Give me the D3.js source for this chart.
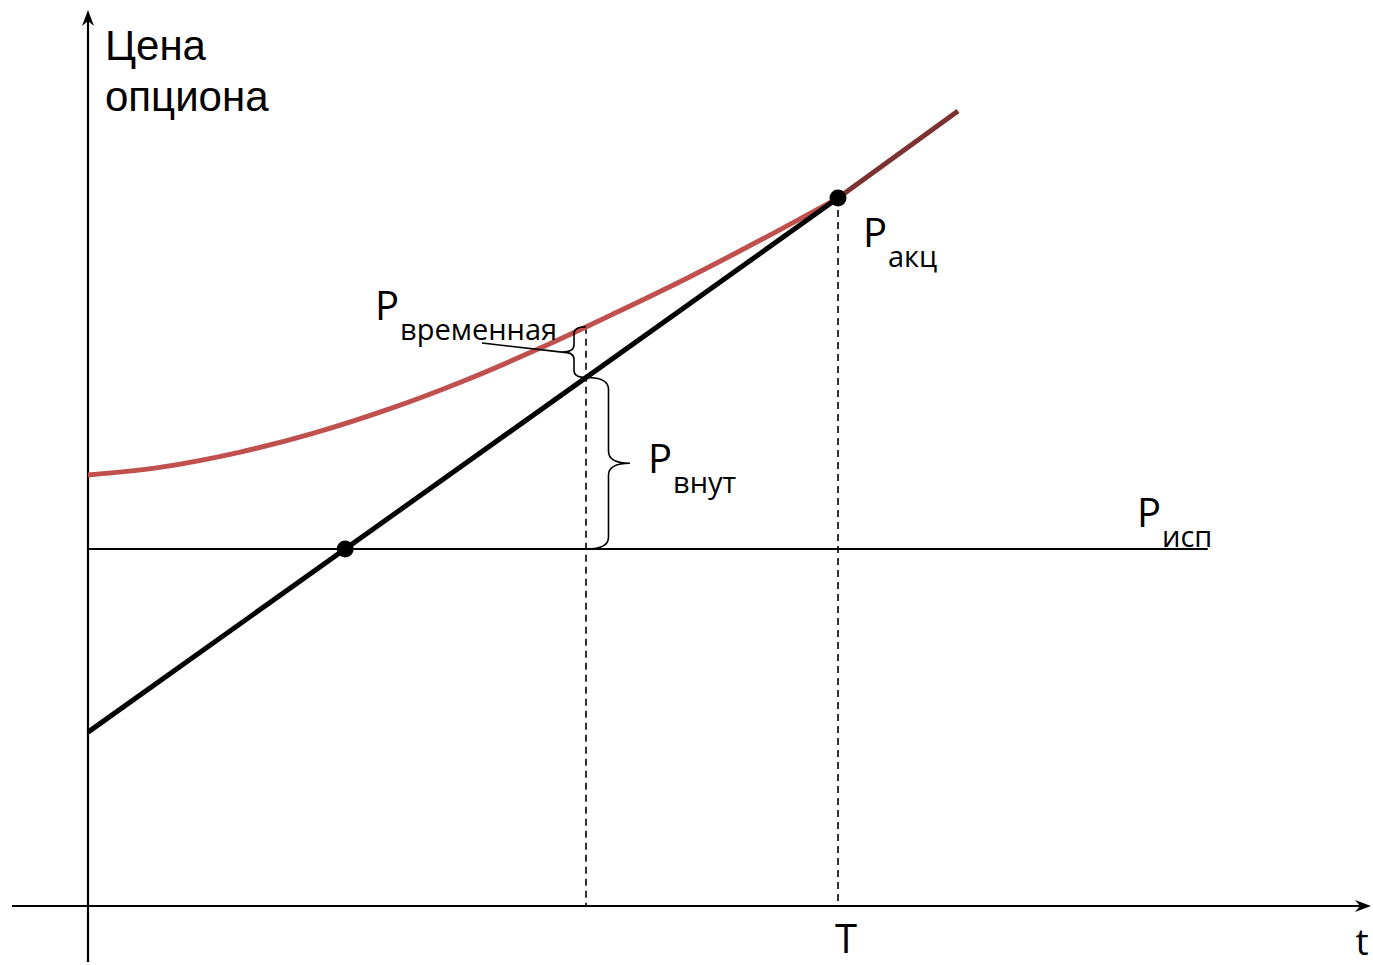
<!DOCTYPE html>
<html lang="ru">
<head>
<meta charset="utf-8">
<title>Цена опциона</title>
<script src="https://cdn.jsdelivr.net/npm/d3@7"></script>
<style>
  html, body { margin: 0; padding: 0; background: #fff; }
  svg { display: block; }
</style>
</head>
<body>
<script>
// Time axis: 0 = today, 1 = expiry T
const optionT     = [0, 0.1, 0.2, 0.3, 0.4, 0.5, 0.6, 0.7, 0.8, 0.9, 1.0];
const optionPrice = [120.7, 123.0, 127.0, 132.4, 139.1, 147.0, 156.0, 165.8, 176.0, 186.9, 198.3];
// Stock-driven part of the value (intrinsic line)
const stockT      = [0, 1];
const stockPrice  = [48.7, 198.3];
// Beyond expiry the option follows the share
const tailT       = [1, 1.16];
const tailPrice   = [198.3, 222.7];
// Strike level and the moments marked on the time axis
const strikePrice = 100;
const strikeT     = [0, 1.493];
const evalT       = 0.664;
const expiryT     = 1;

const W = 1373, H = 965;
const svg = d3.select("body").append("svg").attr("width", W).attr("height", H);

const x = d3.scaleLinear().domain([0, 1]).range([88, 838]);
const y = d3.scaleLinear().domain([0, 100]).range([906, 549]);

const RED = "#c0504d", DARKRED = "#7b3230";
const sans = "'Liberation Sans', Arial, sans-serif";
const open = "'Open Sans', 'Noto Sans', sans-serif";

// value of a piecewise series at t
function valueAt(ts, vs, t) {
  const i = Math.min(ts.length - 1, Math.max(1, d3.bisectLeft(ts, t)));
  const k = (t - ts[i - 1]) / (ts[i] - ts[i - 1]);
  return vs[i - 1] + k * (vs[i] - vs[i - 1]);
}

// ---- axes with arrowheads ----
function arrowHead(tx, ty, dir) {
  const L = 16, w = 6, n = 5;
  let pts;
  if (dir === "up") pts = [[tx, ty], [tx + w, ty + L], [tx, ty + L - n], [tx - w, ty + L]];
  else pts = [[tx, ty], [tx - L, ty - w], [tx - L + n, ty], [tx - L, ty + w]];
  svg.append("path").attr("d", "M" + pts.map(p => p.join(",")).join("L") + "Z").attr("fill", "#000");
}
const x0 = x(0), yAxisY = y(0);
svg.append("line").attr("x1", x0).attr("x2", x0).attr("y1", 962).attr("y2", 14)
  .attr("stroke", "#000").attr("stroke-width", 2.2);
arrowHead(x0, 10, "up");
svg.append("line").attr("x1", 12).attr("x2", 1366).attr("y1", yAxisY).attr("y2", yAxisY)
  .attr("stroke", "#000").attr("stroke-width", 2.2);
arrowHead(1371, yAxisY, "right");

// ---- strike level ----
svg.append("line")
  .attr("x1", x(strikeT[0])).attr("x2", x(strikeT[1]))
  .attr("y1", y(strikePrice)).attr("y2", y(strikePrice))
  .attr("stroke", "#000").attr("stroke-width", 2.2);

// ---- dashed verticals ----
const optionLine = d3.line().x(d => x(d[0])).y(d => y(d[1])).curve(d3.curveCatmullRom.alpha(0.5));
const optPath = svg.append("path")
  .attr("d", optionLine(d3.zip(optionT, optionPrice)))
  .attr("fill", "none").attr("stroke", RED).attr("stroke-width", 5);

const optEval = valueAt(optionT, optionPrice, evalT);
const stockEval = valueAt(stockT, stockPrice, evalT);
svg.insert("line", "path")
  .attr("x1", x(evalT)).attr("x2", x(evalT)).attr("y1", y(optEval)).attr("y2", y(0))
  .attr("stroke", "#000").attr("stroke-width", 1.6).attr("stroke-dasharray", "7,5");
svg.insert("line", "path")
  .attr("x1", x(expiryT)).attr("x2", x(expiryT)).attr("y1", y(stockPrice[1])).attr("y2", y(0))
  .attr("stroke", "#000").attr("stroke-width", 1.6).attr("stroke-dasharray", "7,5");

// ---- stock line ----
const straight = d3.line().x(d => x(d[0])).y(d => y(d[1]));
svg.append("path")
  .attr("d", straight(d3.zip(stockT, stockPrice)))
  .attr("fill", "none").attr("stroke", "#000").attr("stroke-width", 5);

// ---- tail after expiry ----
svg.append("path")
  .attr("d", straight(d3.zip(tailT, tailPrice)))
  .attr("fill", "none").attr("stroke", DARKRED).attr("stroke-width", 5);

// ---- points ----
const crossT = (strikePrice - stockPrice[0]) / (stockPrice[1] - stockPrice[0]) * (stockT[1] - stockT[0]);
svg.selectAll("circle.pt").data([[crossT, strikePrice], [expiryT, stockPrice[1]]]).enter()
  .append("circle").attr("class", "pt")
  .attr("cx", d => x(d[0])).attr("cy", d => y(d[1])).attr("r", 8.5).attr("fill", "#000");

// ---- curly braces ----
function brace(bx, y1, y2, w, r, dir) {
  const hx = bx + dir * w / 2, tx = bx + dir * w, ym = (y1 + y2) / 2;
  return `M${bx},${y1}Q${hx},${y1} ${hx},${y1 + r}L${hx},${ym - r}Q${hx},${ym} ${tx},${ym}` +
         `Q${hx},${ym} ${hx},${ym + r}L${hx},${y2 - r}Q${hx},${y2} ${bx},${y2}`;
}
// time value: between option curve and stock line
const tvTop = y(optEval), tvBot = y(stockEval);
svg.append("path").attr("d", brace(x(evalT), tvTop, tvBot, 24, 7, -1))
  .attr("fill", "none").attr("stroke", "#000").attr("stroke-width", 1.6);
// intrinsic value: between stock line and strike
const ivTop = y(stockEval), ivBot = y(strikePrice);
svg.append("path").attr("d", brace(x(evalT) + 1, ivTop, ivBot, 43, 12, 1))
  .attr("fill", "none").attr("stroke", "#000").attr("stroke-width", 1.6);

// ---- labels ----
function pLabel(px, py, sub, subDx) {
  const t = svg.append("text").attr("x", px).attr("y", py)
    .attr("font-family", open).attr("fill", "#000");
  t.append("tspan").attr("font-size", 40).text("P");
  t.append("tspan").attr("font-size", 29).attr("x", px + subDx).attr("dy", 20).text(sub);
  return t;
}
pLabel(863, 247, "акц", 25);
pLabel(375, 320, "временная", 25);
pLabel(648, 473, "внут", 25);
pLabel(1137, 527, "исп", 25);

// leader from the time-value brace to its label
svg.append("line")
  .attr("x1", x(evalT) - 24).attr("y1", (tvTop + tvBot) / 2)
  .attr("x2", 482).attr("y2", 343)
  .attr("stroke", "#000").attr("stroke-width", 1.6);

// axis titles
const title = svg.append("text").attr("font-family", sans).attr("font-size", 42).attr("fill", "#000");
title.append("tspan").attr("x", 105).attr("y", 60).text("Цена");
title.append("tspan").attr("x", 105).attr("y", 111).text("опциона");

svg.append("text").attr("x", x(expiryT) + 8).attr("y", 953).attr("text-anchor", "middle")
  .attr("font-family", open).attr("font-size", 40).text("T");
svg.append("text").attr("x", 1362).attr("y", 955).attr("text-anchor", "middle")
  .attr("font-family", open).attr("font-size", 37).text("t");
</script>
</body>
</html>
